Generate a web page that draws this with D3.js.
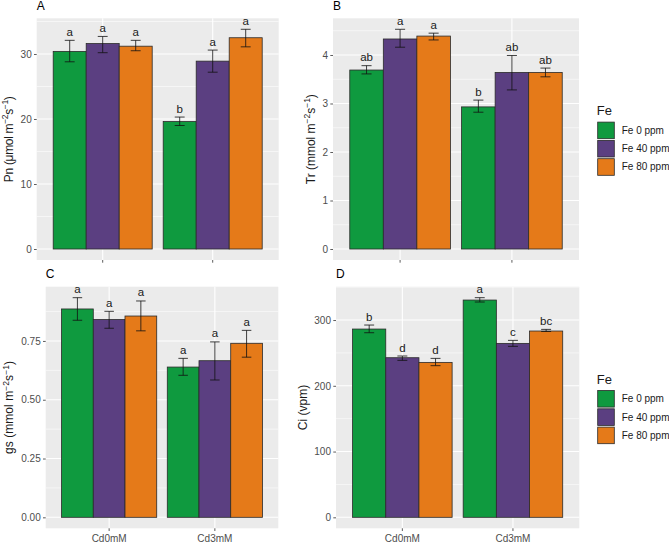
<!DOCTYPE html>
<html>
<head>
<meta charset="utf-8">
<script src="https://cdn.jsdelivr.net/npm/d3@7"></script>
<style>
  body { margin: 0; background: #fff; }
  svg { display: block; font-family: "Liberation Sans", Arial, sans-serif; }
</style>
</head>
<body>
<svg id="chart" width="669" height="543"></svg>
<script>
// groups and fill levels
const cdLevels = ["Cd0mM", "Cd3mM"];
const feLevels = ["Fe 0 ppm", "Fe 40 ppm", "Fe 80 ppm"];
const feColors = ["#0F9A3F", "#5B3F81", "#E57A19"];

// values in order Cd0 (Fe0, Fe40, Fe80), Cd3 (Fe0, Fe40, Fe80)
const pnMean = [30.4, 31.6, 31.2, 19.6, 28.9, 32.5];
const pnLow = [28.8, 30.2, 30.5, 19.0, 27.2, 31.1];
const pnHigh = [32.1, 32.7, 32.1, 20.3, 30.6, 33.8];
const pnLetters = ["a", "a", "a", "b", "a", "a"];
const pnTicks = [0, 10, 20, 30];

const trMean = [3.69, 4.33, 4.39, 2.93, 3.64, 3.64];
const trLow = [3.61, 4.16, 4.31, 2.82, 3.28, 3.55];
const trHigh = [3.78, 4.53, 4.45, 3.07, 3.99, 3.73];
const trLetters = ["ab", "a", "a", "b", "ab", "ab"];
const trTicks = [0, 1, 2, 3, 4];

const gsMean = [0.886, 0.841, 0.856, 0.639, 0.666, 0.740];
const gsLow = [0.838, 0.804, 0.793, 0.604, 0.584, 0.681];
const gsHigh = [0.934, 0.876, 0.920, 0.676, 0.746, 0.795];
const gsLetters = ["a", "a", "a", "a", "a", "a"];
const gsTicks = [0, 0.25, 0.5, 0.75];
const gsTickLabels = ["0.00", "0.25", "0.50", "0.75"];

const ciMean = [286.3, 242.7, 235.6, 330.4, 264.5, 283.3];
const ciLow = [280.7, 238.7, 230.6, 327.4, 260.0, 282.6];
const ciHigh = [292.4, 245.3, 241.7, 334.0, 269.1, 285.8];
const ciLetters = ["b", "d", "d", "a", "c", "bc"];
const ciTicks = [0, 100, 200, 300];

const panels = [
  { tag: "A", unit: "Pn (\u03bcmol m", sup: true, mean: pnMean, low: pnLow, high: pnHigh, letters: pnLetters,
    ticks: pnTicks, tickLabels: pnTicks.map(String), box: { l: 36.7, r: 278.7, t: 18.3, b: 260 }, xLabels: false, legend: false, titleLen: 86 },
  { tag: "B", unit: "Tr (mmol m", sup: true, mean: trMean, low: trLow, high: trHigh, letters: trLetters,
    ticks: trTicks, tickLabels: trTicks.map(String), box: { l: 333, r: 579, t: 18.3, b: 260 }, xLabels: false, legend: true, titleLen: 90 },
  { tag: "C", unit: "gs (mmol m", sup: true, mean: gsMean, low: gsLow, high: gsHigh, letters: gsLetters,
    ticks: gsTicks, tickLabels: gsTickLabels, box: { l: 45.7, r: 278.3, t: 286.7, b: 528.3 }, xLabels: true, legend: false, titleLen: 93 },
  { tag: "D", unit: "Ci (vpm)", sup: false, mean: ciMean, low: ciLow, high: ciHigh, letters: ciLetters,
    ticks: ciTicks, tickLabels: ciTicks.map(String), box: { l: 336, r: 579.3, t: 286.7, b: 528.3 }, xLabels: true, legend: true, titleLen: null }
];

const svg = d3.select("#chart");

panels.forEach(drawPanel);

function drawPanel(p) {
  const box = p.box;
  const g = svg.append("g");

  const maxY = d3.max(p.high);
  const y = d3.scaleLinear()
    .domain([-0.05 * maxY, 1.05 * maxY])
    .range([box.b, box.t]);

  const x = d3.scaleBand()
    .domain(cdLevels)
    .range([box.l, box.r])
    .paddingInner(0.1)
    .paddingOuter(0.15);
  const xFe = d3.scaleBand()
    .domain(feLevels)
    .range([0, x.bandwidth()]);

  // panel background
  g.append("rect")
    .attr("x", box.l).attr("y", box.t)
    .attr("width", box.r - box.l).attr("height", box.b - box.t)
    .attr("fill", "#EBEBEB");

  // minor grid lines half way between majors
  const step = p.ticks[1] - p.ticks[0];
  const minors = [];
  for (let v = p.ticks[0] + step / 2; v <= y.domain()[1]; v += step) minors.push(v);
  g.selectAll(".minor").data(minors).enter().append("line")
    .attr("x1", box.l).attr("x2", box.r)
    .attr("y1", d => y(d)).attr("y2", d => y(d))
    .attr("stroke", "#fff").attr("stroke-width", 0.55);

  g.selectAll(".major").data(p.ticks).enter().append("line")
    .attr("x1", box.l).attr("x2", box.r)
    .attr("y1", d => y(d)).attr("y2", d => y(d))
    .attr("stroke", "#fff").attr("stroke-width", 1.1);

  g.selectAll(".vmajor").data(cdLevels).enter().append("line")
    .attr("x1", d => x(d) + x.bandwidth() / 2).attr("x2", d => x(d) + x.bandwidth() / 2)
    .attr("y1", box.t).attr("y2", box.b)
    .attr("stroke", "#fff").attr("stroke-width", 1.1);

  // rows for each bar
  const rows = [];
  cdLevels.forEach((cd, i) => {
    feLevels.forEach((fe, j) => {
      const k = i * feLevels.length + j;
      rows.push({ cd: cd, fe: fe, j: j, mean: p.mean[k], low: p.low[k], high: p.high[k], letter: p.letters[k] });
    });
  });

  g.selectAll(".bar").data(rows).enter().append("rect")
    .attr("x", d => x(d.cd) + xFe(d.fe))
    .attr("y", d => y(d.mean))
    .attr("width", xFe.bandwidth())
    .attr("height", d => y(0) - y(d.mean))
    .attr("fill", d => feColors[d.j])
    .attr("stroke", "#2a2a2a")
    .attr("stroke-width", 0.8);

  // error bars
  const cap = xFe.bandwidth() * 0.3;
  const eb = g.selectAll(".err").data(rows).enter().append("g")
    .attr("transform", d => "translate(" + (x(d.cd) + xFe(d.fe) + xFe.bandwidth() / 2) + ",0)");
  eb.append("line")
    .attr("y1", d => y(d.low)).attr("y2", d => y(d.high))
    .attr("stroke", "#111").attr("stroke-width", 0.8);
  eb.append("line")
    .attr("x1", -cap / 2).attr("x2", cap / 2)
    .attr("y1", d => y(d.low)).attr("y2", d => y(d.low))
    .attr("stroke", "#111").attr("stroke-width", 0.8);
  eb.append("line")
    .attr("x1", -cap / 2).attr("x2", cap / 2)
    .attr("y1", d => y(d.high)).attr("y2", d => y(d.high))
    .attr("stroke", "#111").attr("stroke-width", 0.8);
  eb.append("text")
    .attr("y", d => y(d.high) - 4.5)
    .attr("text-anchor", "middle")
    .attr("font-size", "11.5px")
    .attr("fill", "#1a1a1a")
    .text(d => d.letter);

  // axes
  const yAxis = g.append("g")
    .attr("transform", "translate(" + box.l + ",0)")
    .call(d3.axisLeft(y).tickValues(p.ticks)
      .tickFormat((d, i) => p.tickLabels[i])
      .tickSize(2.7).tickPadding(2.3));
  yAxis.select(".domain").remove();
  yAxis.selectAll("line").attr("stroke", "#333").attr("stroke-width", 0.8);
  yAxis.selectAll("text").attr("fill", "#4D4D4D").attr("font-size", "10px")
    .attr("font-family", "Liberation Sans, Arial, sans-serif");

  const xAxis = g.append("g")
    .attr("transform", "translate(0," + box.b + ")")
    .call(d3.axisBottom(x).tickSize(2.7).tickPadding(4.2)
      .tickFormat(d => p.xLabels ? d : ""));
  xAxis.select(".domain").remove();
  xAxis.selectAll("line").attr("stroke", "#333").attr("stroke-width", 0.8);
  xAxis.selectAll("text").attr("fill", "#4D4D4D").attr("font-size", "10px")
    .attr("font-family", "Liberation Sans, Arial, sans-serif");

  // y title sits left of the tick labels
  const labLeft = yAxis.node().getBBox().x + box.l;
  const cy = (box.t + box.b) / 2;
  const title = g.append("text")
    .attr("transform", "translate(" + (labLeft - 7.8) + "," + cy + ") rotate(-90)")
    .attr("text-anchor", "middle")
    .attr("font-size", "12px")
    .attr("fill", "#1a1a1a");
  title.append("tspan").text(p.unit);
  if (p.sup) {
    title.append("tspan").attr("font-size", "8.5px").attr("dy", -4.5).text("\u22122");
    title.append("tspan").attr("dy", 4.5).text("s");
    title.append("tspan").attr("font-size", "8.5px").attr("dy", -4.5).text("\u22121");
    title.append("tspan").attr("dy", 4.5).text(")");
  }
  if (p.titleLen) title.attr("textLength", p.titleLen).attr("lengthAdjust", "spacing");

  // panel tag
  svg.append("text")
    .attr("x", box.l).attr("y", box.t - 8.3)
    .attr("font-size", "12px")
    .attr("fill", "#000")
    .text(p.tag);

  if (p.legend) drawLegend(box.t);
}

function drawLegend(top) {
  const lg = svg.append("g").attr("transform", "translate(597.3," + (top + 96.8) + ")");
  lg.append("text")
    .attr("x", -0.5).attr("y", 0)
    .attr("font-size", "13px")
    .attr("fill", "#1a1a1a")
    .text("Fe");
  const keys = lg.selectAll(".key").data(feLevels).enter().append("g")
    .attr("transform", (d, i) => "translate(0," + (6.6 + i * 18.3) + ")");
  keys.append("rect")
    .attr("x", 0.4).attr("y", 0.4)
    .attr("width", 16.6).attr("height", 16.6)
    .attr("fill", (d, i) => feColors[i])
    .attr("stroke", "#2a2a2a").attr("stroke-width", 0.8);
  keys.append("text")
    .attr("x", 24.4).attr("y", 8.7)
    .attr("dy", "0.35em")
    .attr("font-size", "10px")
    .attr("fill", "#1a1a1a")
    .text(d => d);
}
</script>
</body>
</html>
